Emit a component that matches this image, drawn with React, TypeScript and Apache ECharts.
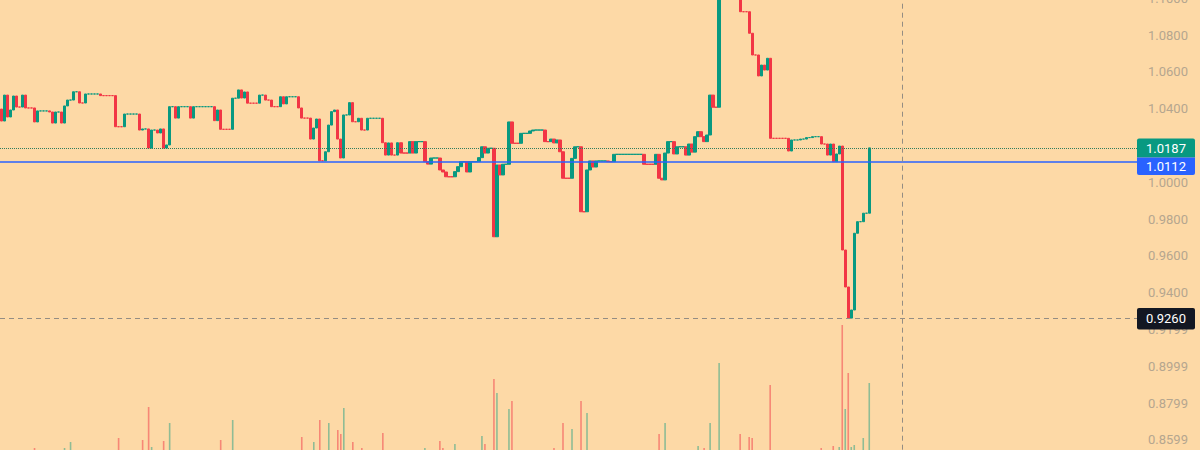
import React, { useEffect, useRef } from "react";
import * as echarts from "echarts";

// Close prices of each 1-minute candle (left to right).
const closes: number[] = [
  1.0333, 1.0474, 1.0355, 1.0393, 1.0469, 1.0409, 1.0409, 1.0474, 1.0404, 1.0404,
  1.0404, 1.0328, 1.0388, 1.0388, 1.0388, 1.0388, 1.0382, 1.0322, 1.0382, 1.0382,
  1.0322, 1.0415, 1.0447, 1.0447, 1.0492, 1.0492, 1.0431, 1.0431, 1.048, 1.048,
  1.048, 1.048, 1.048, 1.0471, 1.0471, 1.0471, 1.0471, 1.0471, 1.0302, 1.0302,
  1.0302, 1.0371, 1.0371, 1.0371, 1.0371, 1.0371, 1.0284, 1.029, 1.029, 1.0186,
  1.0284, 1.0284, 1.0268, 1.029, 1.0186, 1.0203, 1.0411, 1.0411, 1.0349, 1.0411,
  1.0411, 1.0411, 1.0411, 1.0349, 1.0411, 1.0411, 1.0411, 1.0411, 1.0411, 1.0411,
  1.0411, 1.0335, 1.0393, 1.0288, 1.0288, 1.0288, 1.0288, 1.0457, 1.0457, 1.0502,
  1.0458, 1.0491, 1.043, 1.043, 1.043, 1.043, 1.0474, 1.0474, 1.0447, 1.0447,
  1.0411, 1.0411, 1.0411, 1.0465, 1.0426, 1.0465, 1.0465, 1.0465, 1.0465, 1.0404,
  1.0349, 1.0349, 1.0349, 1.0235, 1.0295, 1.0344, 1.0117, 1.0117, 1.0166, 1.0311,
  1.0384, 1.0393, 1.0235, 1.0132, 1.0366, 1.0366, 1.0433, 1.0329, 1.0329, 1.0348,
  1.0284, 1.0284, 1.0348, 1.0348, 1.0348, 1.0348, 1.0348, 1.0215, 1.0148, 1.0214,
  1.0148, 1.0148, 1.0215, 1.0159, 1.0159, 1.0159, 1.0221, 1.0159, 1.0221, 1.0221,
  1.0221, 1.0112, 1.0099, 1.0132, 1.0132, 1.0132, 1.0067, 1.0056, 1.003, 1.003,
  1.003, 1.0058, 1.0085, 1.0112, 1.0112, 1.0056, 1.0112, 1.0112, 1.0112, 1.0134,
  1.0193, 1.0159, 1.0185, 1.0185, 0.9704, 1.0094, 1.004, 1.0098, 1.0098, 1.0328,
  1.0212, 1.0212, 1.0212, 1.0266, 1.0266, 1.0266, 1.0279, 1.0284, 1.0284, 1.0284,
  1.0284, 1.0221, 1.0221, 1.0235, 1.0214, 1.023, 1.0166, 1.0022, 1.0022, 1.0022,
  1.013, 1.0193, 1.0193, 0.984, 0.984, 1.0067, 1.0116, 1.0083, 1.0116, 1.0116,
  1.0116, 1.0116, 1.0112, 1.0112, 1.0152, 1.0152, 1.0152, 1.0152, 1.0152, 1.0152,
  1.0152, 1.0152, 1.0152, 1.0152, 1.0098, 1.0098, 1.0098, 1.0098, 1.0152, 1.0022,
  1.0013, 1.0159, 1.0221, 1.0221, 1.0154, 1.0193, 1.0193, 1.0193, 1.0148, 1.0208,
  1.0164, 1.0248, 1.0275, 1.0248, 1.0221, 1.0257, 1.0474, 1.0408, 1.0408, 1.111,
  1.118, 1.118, 1.115, 1.109, 1.102, 1.102, 1.0927, 1.0927, 1.0927, 1.081,
  1.0692, 1.0692, 1.0578, 1.0637, 1.061, 1.0674, 1.0239, 1.0239, 1.0239, 1.0239,
  1.0239, 1.0239, 1.017, 1.023, 1.023, 1.023, 1.0235, 1.0235, 1.0243, 1.0243,
  1.0248, 1.0248, 1.0248, 1.0208, 1.0208, 1.0148, 1.0208, 1.0112, 1.0154, 1.0197,
  0.9632, 0.9431, 0.9262, 0.9306, 0.9723, 0.9786, 0.9786, 0.9832, 0.9832, 1.0187,
];
const firstOpen = 1.0398;

// Volume bars as [candle index, volume]
const volumeUp: [number, number][] = [
  [21, 7], [23, 13], [50, 8], [56, 32], [77, 35], [104, 13], [109, 32], [114, 47],
  [141, 7], [151, 11], [160, 19], [165, 62], [169, 46], [190, 26], [195, 42],
  [221, 32], [232, 9], [236, 32], [239, 92], [279, 8], [281, 46], [283, 8],
  [284, 10], [287, 17], [289, 72],
];
const volumeDown: [number, number][] = [
  [11, 7], [39, 17], [47, 15], [49, 48], [54, 14], [73, 15], [100, 18], [106, 35],
  [112, 25], [113, 21], [117, 13], [120, 7], [127, 22], [146, 14], [147, 7],
  [161, 11], [164, 76], [170, 54], [184, 7], [187, 32], [193, 54], [219, 21],
  [234, 7], [246, 21], [249, 18], [250, 17], [256, 70], [273, 7], [277, 9],
  [280, 130], [282, 82],
];

const slotCount = 379;
const categories: string[] = Array.from({ length: slotCount }, (_, i) => `m${i}`);
const crosshairSlot = "m300";

const lastPrice = 1.0187;
const referencePrice = 1.0112;
const crosshairPrice = 0.926;

// Price-axis tick labels (1.0200 sits fully under the price boxes, as in the reference)
const tickValues = [0.86, 0.88, 0.9, 0.92, 0.94, 0.96, 0.98, 1.0, 1.04, 1.06, 1.08, 1.1];
const tickLabels = [
  "0.8599", "0.8799", "0.8999", "0.9199", "0.9400", "0.9600", "0.9800",
  "1.0000", "1.0400", "1.0600", "1.0800", "1.1000",
];

const UP = "#089981";
const DOWN = "#f23645";
const BG = "#fdd9a6";
const LABEL = "#b5a68f";
const CROSS = "#948d83";
const FONT = "Roboto, 'Noto Sans', sans-serif";

export default function App() {
  const ref = useRef<HTMLDivElement>(null);

  useEffect(() => {
    document.body.style.margin = "0";
    const chart = echarts.init(ref.current!, null, { renderer: "svg" });

    let prevDir = 1;
    const candles = closes.map((c, i) => {
      const o = i === 0 ? firstOpen : closes[i - 1];
      const dir = c > o ? 1 : c < o ? -1 : prevDir;
      prevDir = dir;
      const col = dir > 0 ? UP : DOWN;
      return {
        value: [o, c, Math.min(o, c), Math.max(o, c)],
        itemStyle: { color: col, color0: col, borderColor: col, borderColor0: col },
      };
    });

    chart.setOption({
      animation: false,
      backgroundColor: BG,
      grid: [
        { left: 0, right: 62, top: -1.7, bottom: -26.7, outerBoundsMode: "none", containLabel: false },
        { left: 0, right: 62, top: 255, bottom: -5, outerBoundsMode: "none", containLabel: false },
      ],
      xAxis: [
        { type: "category", data: categories, gridIndex: 0, show: false, boundaryGap: true },
        { type: "category", data: categories, gridIndex: 1, show: false, boundaryGap: true },
      ],
      yAxis: [
        {
          type: "value",
          gridIndex: 0,
          position: "right",
          min: 0.84,
          max: 1.1,
          interval: 0.02,
          axisLine: { show: false },
          axisTick: { show: false },
          splitLine: { show: false },
          axisLabel: {
            color: LABEL,
            fontSize: 13,
            fontFamily: FONT,
            margin: 10,
            formatter: (v: number) => {
              const k = tickValues.findIndex((t) => Math.abs(t - v) < 1e-6);
              return k >= 0 ? tickLabels[k] : "";
            },
          },
        },
        { type: "value", gridIndex: 1, min: 0, max: 200, show: false },
      ],
      series: [
        {
          type: "bar",
          xAxisIndex: 1,
          yAxisIndex: 1,
          data: volumeUp,
          barWidth: 1.6,
          barGap: "-100%",
          itemStyle: { color: "rgba(8,153,129,0.45)" },
          silent: true,
          z: 1,
        },
        {
          type: "bar",
          xAxisIndex: 1,
          yAxisIndex: 1,
          data: volumeDown,
          barWidth: 1.6,
          barGap: "-100%",
          itemStyle: { color: "rgba(242,54,69,0.5)" },
          silent: true,
          z: 1,
        },
        {
          type: "candlestick",
          xAxisIndex: 0,
          yAxisIndex: 0,
          data: candles,
          barWidth: 2.8,
          itemStyle: { borderWidth: 1 },
          z: 3,
          markLine: {
            silent: true,
            symbol: ["none", "none"],
            label: { show: false },
            precision: 4,
            data: [
              { yAxis: lastPrice, lineStyle: { type: "dotted", color: "#2f7d5e", width: 1 } },
              { yAxis: referencePrice, lineStyle: { type: "solid", color: "#2962ff", width: 1.6 } },
              { yAxis: crosshairPrice, lineStyle: { type: [5, 4], color: CROSS, width: 1 } },
              { xAxis: crosshairSlot, lineStyle: { type: [5, 4], color: CROSS, width: 1 } },
            ],
          },
        },
      ],
    });

    const yLast = chart.convertToPixel({ yAxisIndex: 0 }, lastPrice) as number;
    const yCross = chart.convertToPixel({ yAxisIndex: 0 }, crosshairPrice) as number;
    const boxX = 1137;
    const boxW = 58;
    const textX = boxX + boxW / 2;
    const txt = (y: number, s: string) => ({
      type: "text",
      x: textX,
      y,
      z: 101,
      style: {
        text: s,
        fill: "#ffffff",
        font: `13px ${FONT}`,
        textAlign: "center",
        textVerticalAlign: "middle",
      },
    });

    chart.setOption({
      graphic: [
        { type: "rect", z: 100, shape: { x: boxX, y: yLast - 9.5, width: boxW, height: 19, r: [2, 2, 0, 0] }, style: { fill: UP } },
        txt(yLast + 0.5, lastPrice.toFixed(4)),
        { type: "rect", z: 100, shape: { x: boxX, y: yLast + 9.5, width: boxW, height: 17.5, r: [0, 0, 2, 2] }, style: { fill: "#2962ff" } },
        txt(yLast + 18.5, referencePrice.toFixed(4)),
        { type: "rect", z: 100, shape: { x: boxX, y: yCross - 10.5, width: boxW, height: 21.5, r: 2 }, style: { fill: "#131722" } },
        txt(yCross + 0.5, crosshairPrice.toFixed(4)),
      ],
    });

    return () => chart.dispose();
  }, []);

  return (
    <div
      ref={ref}
      style={{ position: "absolute", left: 0, top: 0, width: 1200, height: 450, background: BG }}
    />
  );
}
